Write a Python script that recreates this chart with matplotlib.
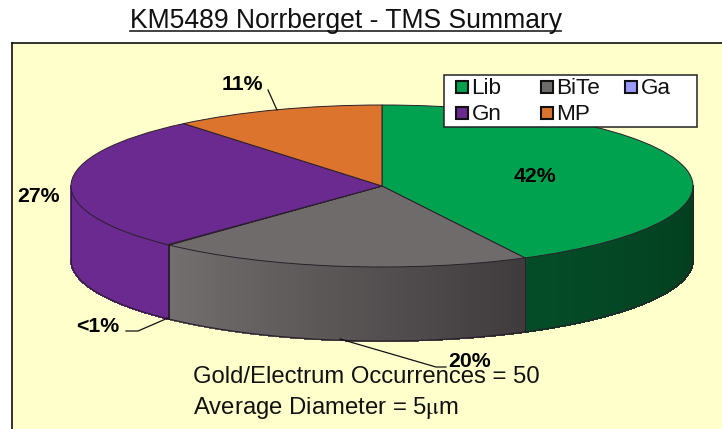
import numpy as np
import matplotlib
matplotlib.use('Agg')
import matplotlib.pyplot as plt
from matplotlib.colors import to_rgb
from matplotlib.patches import Rectangle
from matplotlib.transforms import Affine2D

plt.rcParams['font.family'] = ['Liberation Sans', 'DejaVu Sans']
plt.rcParams['mathtext.fontset'] = 'stix'

categories = ['Lib', 'BiTe', 'Ga', 'Gn', 'MP']
values = [42.4, 19.6, 0.1, 26.9, 11.0]
colors = ['#00A24F', '#6F6B6B', '#9999FF', '#6A2A90', '#DC742D']
# wall colour at the start and the end of each slice (clockwise)
wall_start = ['#033D1E', '#3F3B3C', '#5A5AA0', '#6A2A90', '#DC742D']
wall_end = ['#044C28', '#736F6F', '#5A5AA0', '#6A2A90', '#DC742D']

W, H = 722, 429
cx, cy, rx, ry, depth = 382, 186, 311, 81, 74  # pie geometry in pixels
EDGE = '#2A1F2A'

fig = plt.figure(figsize=(W / 100, H / 100), dpi=100, facecolor='white')
ax = fig.add_axes([12 / W, 0, (W - 12) / W, (H - 43) / H], facecolor='#FFFFCC')

wedges, _ = ax.pie(values, colors=colors, startangle=90, counterclock=False,
                   wedgeprops={'edgecolor': EDGE, 'linewidth': 0.7})
for w in wedges:
    w.set_zorder(3)

# pie units -> one unit is rx wide and ry high, this squashes the circle
ax.set_aspect('auto')
ax.set_xlim((12 - cx) / rx, (W - cx) / rx)
ax.set_ylim((cy - H) / ry, (cy - 43) / ry)
ax.set_frame_on(True)
for side in ['right', 'bottom']:
    ax.spines[side].set_visible(False)
for side in ['left', 'top']:
    ax.spines[side].set_color('#111111')
    ax.spines[side].set_linewidth(1.2)

# side wall, only the front half (90..270 deg clockwise from the top)
d = depth / ry
edges = np.cumsum([0] + values) / sum(values) * 360
for i in range(len(values)):
    a0, a1 = max(edges[i], 90), min(edges[i + 1], 270)
    if a1 <= a0:
        continue
    steps = np.linspace(a0, a1, max(int(a1 - a0) * 2, 1) + 1)
    c0, c1 = np.array(to_rgb(wall_start[i])), np.array(to_rgb(wall_end[i]))
    for j in range(len(steps) - 1):
        t = np.radians(np.linspace(steps[j], steps[j + 1], 4))
        x = np.sin(t)
        y = np.cos(t)
        c = c0 + (c1 - c0) * j / max(len(steps) - 2, 1)
        ax.fill(np.r_[x, x[::-1]], np.r_[y, y[::-1] - d], color=c, lw=0.8,
                antialiased=False, zorder=2)
    # seam at the start of the slice
    t0 = np.radians(a0)
    ax.plot([np.sin(t0)] * 2, [np.cos(t0), np.cos(t0) - d], color=EDGE, lw=0.7, zorder=2.5)

t = np.radians(np.linspace(90, 270, 300))
ax.plot(np.sin(t), np.cos(t) - d, color=EDGE, lw=0.8, zorder=2.5)
ax.plot([1, 1], [0, -d], color=EDGE, lw=0.6, zorder=2.5)
ax.plot([-1, -1], [0, -d], color=EDGE, lw=0.6, zorder=2.5)

# everything below is placed in image pixels, y going down
px = Affine2D().scale(1, -1).translate(0, H)


def put(x, y, s, **kw):
    return fig.text(x, y, s, transform=px, **kw)


def leader(xs, ys):
    fig.add_artist(plt.Line2D(xs, ys, transform=px, color='#111111', lw=0.9))


put(345.5, 28, 'KM5489 Norrberget - TMS Summary', fontsize=19.1, ha='center', va='baseline', color='#111111')
fig.add_artist(plt.Line2D([130, 561], [31, 31], transform=px, color='#333333', lw=1.3))

LABEL = dict(fontsize=15.3, fontweight='bold', ha='center', va='baseline')
put(242, 90, '11%', **LABEL)
put(535, 182, '42%', **LABEL)
put(39, 202, '27%', **LABEL)
put(98, 332, '<1%', **LABEL)

leader([268, 277], [90, 110])
leader([126, 138, 168], [331, 331, 318])
leader([340, 436, 446], [339, 367, 367])

put(193, 383, 'Gold/Electrum Occurrences = 50', fontsize=17.2, va='baseline', color='#111111')
put(193, 414, 'Average Diameter = 5$\\mathrm{\\mu}$m', fontsize=17.2, va='baseline', color='#111111')
put(469.5, 367, '20%', **LABEL)

# legend box drawn by hand, the columns have equal pitch
fig.add_artist(Rectangle((444, 75), 253, 52, transform=px, facecolor='white',
                         edgecolor='#222222', linewidth=1.1, zorder=10))
leg_x = [456, 541, 625, 456, 541]
leg_y = [87, 87, 87, 113, 113]
for i in range(len(categories)):
    fig.add_artist(Rectangle((leg_x[i], leg_y[i] - 6), 12, 12, transform=px, facecolor=colors[i],
                             edgecolor='#111111', linewidth=1.5, zorder=11))
    put(leg_x[i] + 15.5, leg_y[i] + 7, categories[i], fontsize=16.2, va='baseline',
        color='#111111', zorder=11)

fig.savefig('out.png', dpi=100)
